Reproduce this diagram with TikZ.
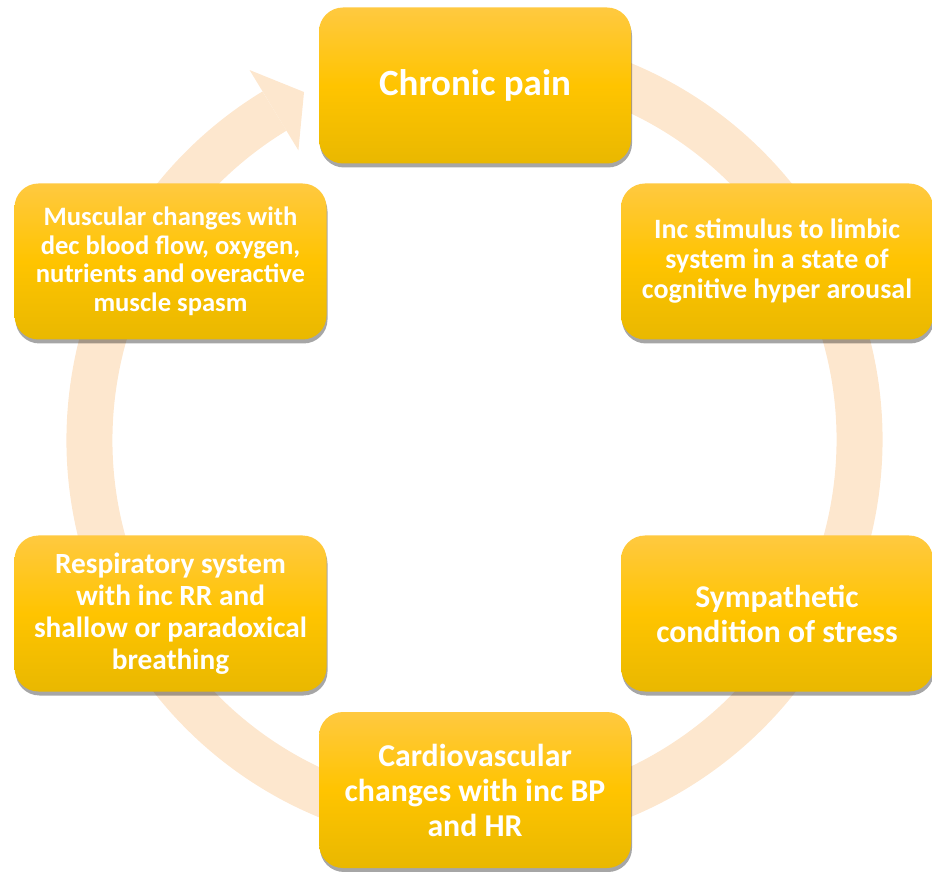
\documentclass[tikz,border=0pt]{standalone}
\usepackage{fontspec}
\setmainfont{Carlito}
\usetikzlibrary{shadows}
\definecolor{stageyellow}{RGB}{255,196,0}
\definecolor{stagetop}{RGB}{255,201,64}
\definecolor{stagebottom}{RGB}{233,184,0}
\definecolor{cyclepeach}{RGB}{253,231,206}
\tikzset{
  stage/.style={rounded corners=24pt, minimum width=312pt, minimum height=156pt,
    align=center, text=white, top color=stagetop, bottom color=stagebottom,
    middle color=stageyellow,
    drop shadow={shadow xshift=1pt, shadow yshift=-4pt, opacity=.35, fill=black}},
  textsize/.style 2 args={font=\bfseries\fontsize{#1}{#2}\selectfont},
}

\begin{document}
\begin{tikzpicture}[x=1pt, y=1pt]
  \useasboundingbox (0,0) rectangle (932,871);
  \coordinate (hub) at (474.5,431);

  % cycle arrow behind the stages
  \begin{scope}[shift={(hub)}]
    \draw [cyclepeach, line width=46pt] (80:385) arc [start angle=80, end angle=-238.7, radius=385];
    \fill [cyclepeach] (121.3:433) -- (116.1:387.5) -- (121.3:339) -- cycle;
  \end{scope}

  \node [stage, textsize={37}{42}] (pain) at (475,785.5) {Chronic pain};
  \node [stage, textsize={28}{30}] (limbic) at (777,609.5)
    {Inc stimulus to limbic\\system in a state of\\cognitive hyper arousal};
  \node [stage, textsize={31.7}{35}] (sympathetic) at (777,257.5)
    {Sympathetic\\condition of stress};
  \node [stage, textsize={31.8}{35}] (cardio) at (475,81)
    {Cardiovascular\\changes with inc BP\\and HR};
  \node [stage, textsize={29.3}{32}] (respiratory) at (170.5,257.5)
    {Respiratory system\\with inc RR and\\shallow or paradoxical\\breathing};
  \node [stage, textsize={26.6}{28.5}] (muscular) at (170.5,609.5)
    {Muscular changes with\\dec blood flow, oxygen,\\nutrients and overactive\\muscle spasm};
\end{tikzpicture}
\end{document}
